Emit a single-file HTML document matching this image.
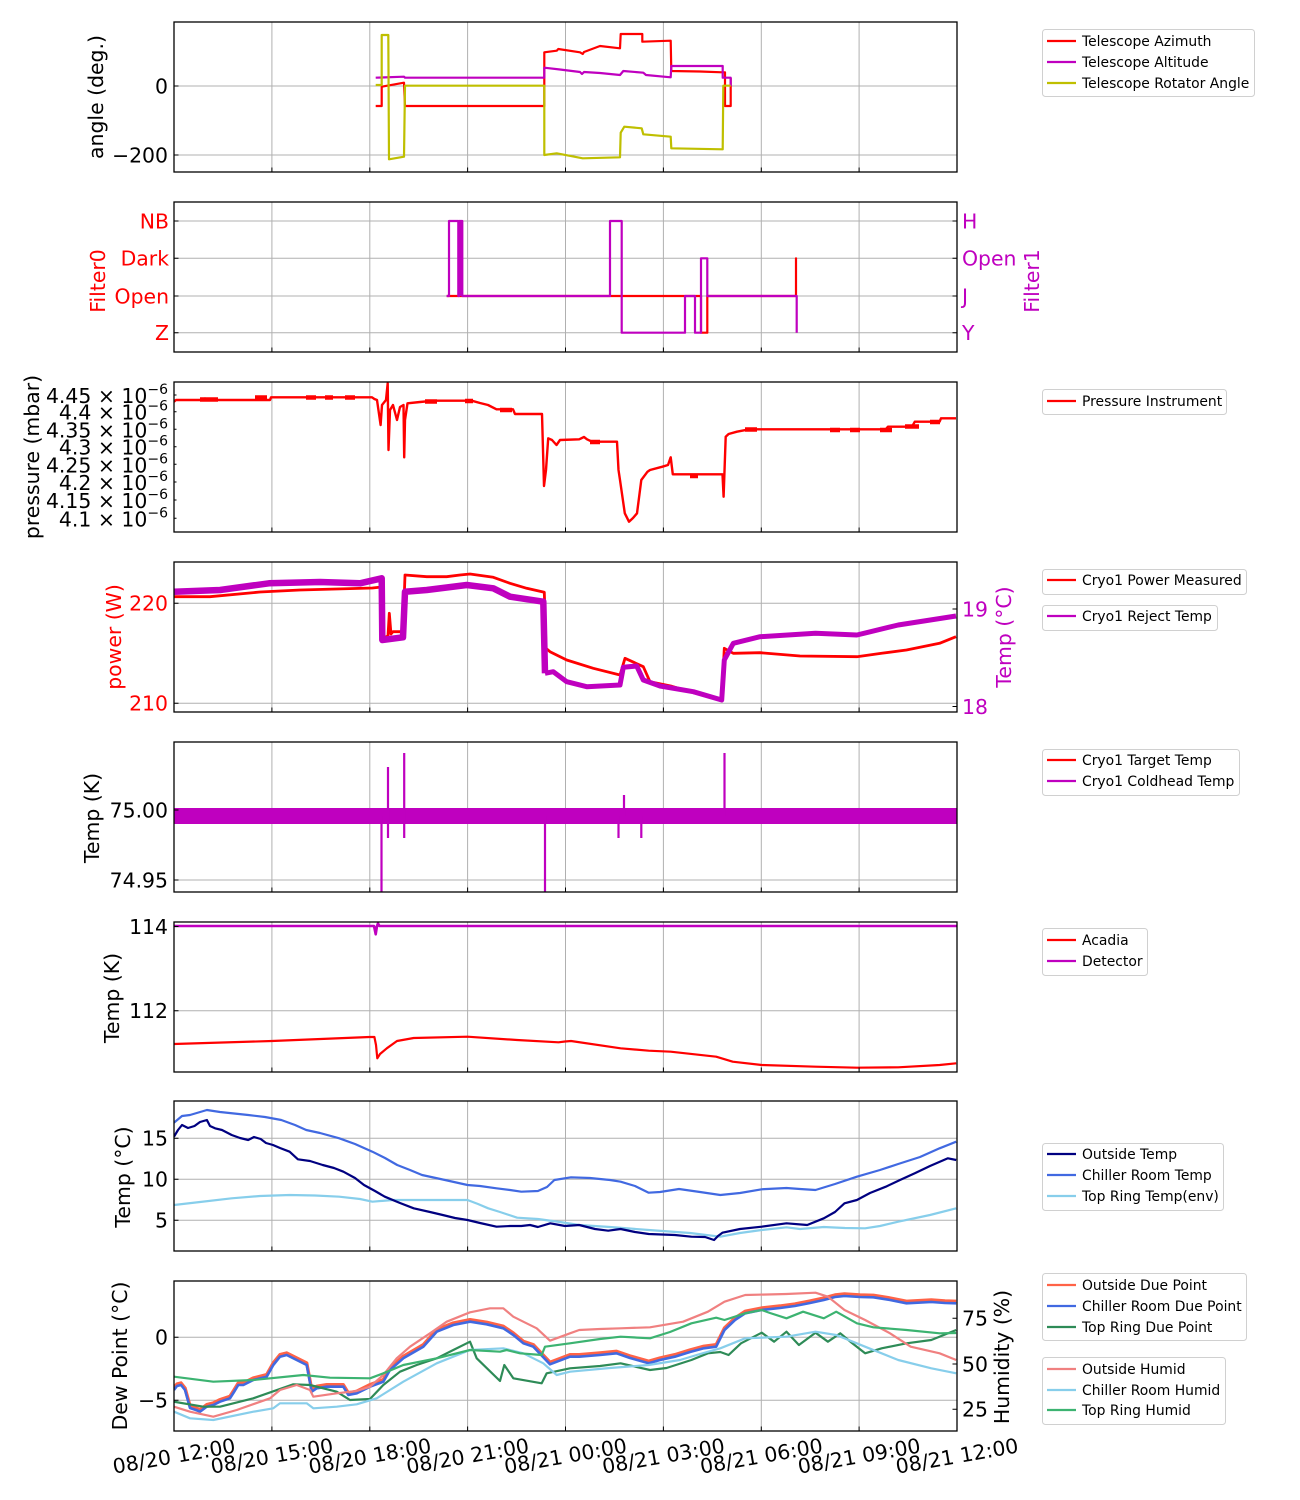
<!DOCTYPE html>
<html><head><meta charset="utf-8"><style>
html,body{margin:0;padding:0;background:#fff;}
svg{display:block;}
.l{fill:none;stroke-linejoin:round;stroke-linecap:butt;}
text{font-family:"DejaVu Sans","Liberation Sans",sans-serif;}
.tk{font-size:20.4px;}
.lg{font-size:13.9px;}
</style></head><body>
<svg width="1300" height="1500" viewBox="0 0 1300 1500" xmlns="http://www.w3.org/2000/svg">
<defs>
<path id="vg" d="M271.9 0V150M369.8 0V150M467.6 0V150M565.5 0V150M663.4 0V150M761.3 0V150M859.1 0V150" stroke="#b0b0b0" stroke-width="1" fill="none"/>
<path id="bt" d="M271.9 150v-4.5M369.8 150v-4.5M467.6 150v-4.5M565.5 150v-4.5M663.4 150v-4.5M761.3 150v-4.5M859.1 150v-4.5" stroke="#000" stroke-width="1" fill="none"/>
<polyline id="cdew" points="174,1390 177,1386 181,1385 185,1390 190,1408 196,1410 200,1411.7 206.7,1406.7 213.3,1405 220,1401.7 230,1398.3 234,1392 238.3,1385 243.3,1385 253.3,1380 266.7,1376.7 273.3,1365 280,1356.7 286.7,1355 296.7,1360 306.7,1365 311.7,1391.7 316.7,1388.3 326.7,1386.7 343.3,1386.7 348.3,1395 356.7,1393.3 370,1386.7 383.3,1381.7 390,1370 403.3,1358.3 423.3,1346.7 436.7,1331.7 453.3,1325 470,1321.7 486.7,1324.3 503.3,1328.3 513.3,1335 523.3,1343.3 533.3,1346.7 550,1364.3 570,1356.7 579.2,1356.7 600,1355 616.5,1353.3 630,1358 648.7,1363.3 660,1360 674.8,1356.7 690,1352 703.8,1348.3 716.2,1346.7 724.5,1330 735,1320 745.2,1313.3 761.7,1310 780,1308 794.8,1306 810,1303 823.8,1300 835,1297 844.5,1296 860,1297 873.4,1297.3 890,1300 906.5,1303.3 931.3,1302 945,1303 956.2,1303.3"/>
<clipPath id="c1"><rect x="174" y="22" width="783" height="150"/></clipPath>
<clipPath id="c2"><rect x="174" y="202" width="783" height="150"/></clipPath>
<clipPath id="c3"><rect x="174" y="382" width="783" height="150"/></clipPath>
<clipPath id="c4"><rect x="174" y="562" width="783" height="150"/></clipPath>
<clipPath id="c5"><rect x="174" y="742" width="783" height="150"/></clipPath>
<clipPath id="c6"><rect x="174" y="922" width="783" height="150"/></clipPath>
<clipPath id="c7"><rect x="174" y="1101" width="783" height="150"/></clipPath>
<clipPath id="c8"><rect x="174" y="1281" width="783" height="150"/></clipPath>
</defs>

<use href="#vg" y="22"/><use href="#vg" y="202"/><use href="#vg" y="382"/><use href="#vg" y="562"/>
<use href="#vg" y="742"/><use href="#vg" y="922"/><use href="#vg" y="1101"/><use href="#vg" y="1281"/>
<path d="M174 86H957M174 155H957 M174 221H957M174 258.3H957M174 296H957M174 332.7H957 M174 603.3H957M174 703.3H957 M174 810H957M174 880H957 M174 926.5H957M174 1010.7H957 M174 1138.3H957M174 1179.3H957M174 1220.3H957 M174 1337.3H957M174 1400.3H957" stroke="#b0b0b0" stroke-width="1" fill="none"/>

<g clip-path="url(#c1)" stroke-width="2.2">
<polyline class="l" stroke="#ff0000" points="375.7,106 381.7,106 381.7,86.7 404,82.7 405,106 544.3,106 544.3,52.3 556.7,50.7 558.3,49 580,52.3 582.7,54 584,52 600,46 620,48.3 620.7,34 642.3,34 642.3,41.7 670.7,40.7 671.3,71 700,71.5 722.3,72.3 725,72.3 725,106 730.7,106 730.7,78"/>
<polyline class="l" stroke="#bf00bf" points="375.7,77.7 404,76.7 405,77.7 544.3,77.7 544.3,67.7 560,69.5 580,72 582,74 584,72 600,73 620,75 623.3,71 643.3,72.7 646,75 670.7,77.3 671.3,66 722.7,66 722.7,77.7 730.7,77.7 730.7,86"/>
<polyline class="l" stroke="#bfbf00" points="375.7,85 381.7,85 381.7,35 388.3,35 389,159.3 404,156.7 405,85.7 544.3,85.7 544.3,155 556.7,153.3 582.7,158.3 620,157.3 620.7,132.7 624.3,126.7 641.7,128.3 643.3,134.3 670.7,136.7 671.3,148.3 722.7,149.3 723.3,85.7 730.7,85.7"/>
</g>

<g clip-path="url(#c2)" stroke-width="2.2">
<polyline class="l" stroke="#ff0000" points="446.7,296 701,296 701,332.7 707.3,332.7 707.3,296 796,296 796,258.3 796,296"/>
<polyline class="l" stroke="#bf00bf" points="446.7,296 449,296 449,221 458.3,221 458.3,296 459,296 459,221 462.3,221 462.3,296 610,296 610,221 621.7,221 621.7,332.7 685,332.7 685,296 695,296 695,332.7 701,332.7 701,258.3 707.3,258.3 707.3,296 796.7,296 796.7,332.7"/>
<path d="M459.5 221V296M461 221V296" stroke="#bf00bf" stroke-width="2"/>
</g>

<g clip-path="url(#c3)">
<polyline class="l" stroke="#ff0000" stroke-width="2.4" points="174,401.7 176,400 200,400 205,398.5 207,400 270,400 271,397.3 372,397.3 374.4,399 377,400 380.6,425 382,405 386,400 387.7,383.3 388.5,450 390,410 393,405 397,420 400,407 403.5,405 404.2,457.3 405,420 407.5,403.3 420,402 434,400.7 471.7,400.7 480,403 488,405 496.5,409.3 513,409.3 515,414 542,414 544,486 546,470 548.2,438.3 552,440 556.5,445 560,440 579.2,439.3 584,437 587,439.3 592,441.7 617,441.7 618.5,470 620,480 624.8,513.3 629,521.7 633,518 637,513.3 641.3,480 647.5,471.7 650,470 662.4,466.7 668,465 670.7,457.3 672.8,474.3 722.5,474.3 723.6,496.7 725.7,436.7 728.6,434 736.9,431.7 749.3,429.3 885.8,429.3 888,426.7 912,426.7 914.8,421.7 939.6,421.7 941,418.3 956,418.3"/>
<path d="M200 399.5h18M255 397.5h12M306 397.5h10M325 397.5h8M345 397.5h10M425 401.5h12M465 401h8M500 410h12M590 442h10M690 476h8M745 429.5h12M830 430h10M850 430h10M880 430h12M905 426.5h14M930 422h10" stroke="#ff0000" stroke-width="4.5"/>
</g>

<g clip-path="url(#c4)">
<polyline class="l" stroke="#ff0000" stroke-width="2.8" points="174,596.7 210,596.7 260,592 300,590 372.4,588 381.7,587 382.3,638.3 388,636 389.3,613.3 391,634 393,631.7 403,631.7 405,575 426.7,576.7 446.7,576.7 460,575 470,574 493.3,577.3 510,583.3 526.7,588.3 544.3,592.3 546,648.3 550,651.7 566.7,660 593.3,668.3 620,675 625,658.3 643.3,666.7 650,681.7 670.7,686 693.3,692.7 721.7,700 724.3,648.3 733.3,653.3 760,652.7 800,656 856.9,656.7 881.7,653.3 906.5,650 939.6,643.3 956,636.7"/>
<polyline class="l" stroke="#bf00bf" stroke-width="6.5" points="174,591.7 220,590 269,583.3 320,582 360,583.3 381.7,578.3 382.3,640 403,637.3 405,591.7 426.7,590 466.7,585 493.3,588.3 510,596.7 543.3,601.7 545,673.3"/>
<polyline class="l" stroke="#bf00bf" stroke-width="5" points="545,673.3 553.3,671.7 566.7,681.7 586.7,686.7 620,685 623.3,667.3 636.7,666 643.3,680 660,686 693.3,691.7 721.7,700 724.3,660 733.3,643.3 760,636.7 815.5,633.3 856.9,635 898.2,625 956,616"/>
</g>

<g clip-path="url(#c5)">
<rect x="174" y="808" width="783" height="16" fill="#bf00bf"/>
<path d="M381.5 816V892M388 767V838M404.2 753V838M545 816V892M618.5 816V838M624 795V816M641.3 816V838M724.5 753V816" stroke="#bf00bf" stroke-width="2.2" fill="none"/>
</g>

<g clip-path="url(#c6)">
<polyline class="l" stroke="#ff0000" stroke-width="2.2" points="174,1044 272,1041 369.5,1037 374.4,1037 376,1045 377.3,1058.3 380,1054 386.8,1048.3 397,1041 413.7,1038 467.5,1036.7 517,1040 558.5,1042.3 565,1041.5 571,1041 620.6,1048.3 648.7,1050.7 670.7,1051.7 716.2,1056.7 732.7,1061.7 761.7,1065 815.5,1066.7 856.9,1067.7 898.2,1067.3 939.6,1065 956.2,1063.3"/>
<polyline class="l" stroke="#bf00bf" stroke-width="2.6" points="174,926 374,926 375.7,934.3 377,926 378,923.5 379.5,926 957,926"/>
</g>

<g clip-path="url(#c7)" stroke-width="2.2">
<polyline class="l" stroke="#87ceeb" points="174,1205 200,1202 231.7,1198.3 260,1196 289.6,1195 315,1195.5 339.3,1196.7 360,1199 372.4,1201.7 393,1200 430,1200 467.5,1200 478,1204 488.2,1208.3 500,1212 517.2,1217.7 537.9,1219 560,1222 579.2,1225 610,1227 648.7,1230 690,1233 720.3,1236.7 740,1233 761.7,1230 786.5,1227.3 800,1229 823.8,1227 845,1228 865.1,1228.3 880,1226 898.2,1221.7 930,1215 956.2,1208.3"/>
<polyline class="l" stroke="#4169e1" points="174,1122.7 182,1116 190,1115 206.9,1110 220,1112 248.2,1115 265,1117 281.3,1120 295,1125 306.2,1130 320,1133 339.3,1138.3 355,1144 372.4,1151.7 385,1158 397.2,1165 410,1170 422,1175 445,1180 467.5,1185 480,1186 496.5,1188.3 510,1190 521.3,1191.7 537.9,1191 547,1187 554.4,1180 571,1177.3 590,1178 610,1180 620.6,1181.7 635,1186 648.7,1192.7 660,1192 679,1189 700,1192 720.3,1195 740,1193 761.7,1189.3 786.5,1188 800,1189 815.5,1190 835,1184 856.9,1176.7 880,1170 898.2,1164 920,1157 939.6,1148.3 956.2,1141.7"/>
<polyline class="l" stroke="#000080" points="174,1136.7 178,1130 182,1125 188,1128 194.5,1126 200,1122 206.9,1120 210,1126 215,1128.3 222,1130 231.7,1135 240,1138 248.2,1140 254,1137 260.7,1139 266,1143 273,1145 280,1148 289.6,1151.7 297.9,1159.3 310,1161 322.7,1165 334,1168 343.4,1171.7 355,1178 364,1185 375,1191 384.8,1196.7 400,1203 413.7,1208.3 430,1212 442.7,1215 455,1218 467.5,1220 480,1223 496.5,1226.7 510,1226 521.3,1226 530,1225 537.9,1227 550.3,1223.3 565,1226 579.2,1225 595,1229 608.2,1230.7 620.6,1229 635,1232 648.7,1234 674.8,1235 691.4,1236.7 705,1237 714.1,1240 718,1236 722.4,1232.7 740,1229 761.7,1226.7 786.5,1223.3 807.2,1225 823.8,1218.3 835,1212 844.5,1203.3 856.9,1200 870,1193 885.8,1186.7 900,1180 914.8,1173.3 930,1166 947.9,1158.3 956.2,1160"/>
</g>

<g clip-path="url(#c8)">
<use href="#cdew" class="l" stroke="#ff6347" stroke-width="3.4" transform="translate(0,-2)"/>
<use href="#cdew" class="l" stroke="#4169e1" stroke-width="2.6"/>
<polyline class="l" stroke="#2e8b57" stroke-width="2.2" points="174,1401.7 203.3,1406.7 220,1406.7 253.3,1398.3 293.3,1384.3 310,1385 336.7,1391.7 350,1400 370,1399 383.3,1385 400,1371.7 416.7,1365 436.7,1358.3 453.3,1350 470,1341.7 476.7,1358.3 500,1381 504.3,1365 513.3,1378.3 541.7,1383.3 546.7,1373.3 570,1368.3 600,1366 620.6,1363.3 650,1370 666.5,1368 691.4,1360 707.9,1353.3 720.3,1352 728.6,1355 741,1343.3 761.7,1332.7 774.1,1341.7 786.5,1331.7 798.9,1345 815.5,1332.7 827.9,1341.7 840.3,1333.3 852,1343 865.1,1353.3 881.7,1348.3 906.5,1343.3 931.3,1340 956.2,1330"/>
<polyline class="l" stroke="#f08080" stroke-width="2.2" points="174,1406.7 190,1411.7 213.3,1416.7 236.7,1410 270,1398.3 280,1390 296.7,1385 310,1390 313.3,1396.7 336.7,1393.3 356.7,1391 370,1386.7 383.3,1375 396.7,1358.3 410,1346.7 430,1333.3 446.7,1321.7 470,1312.3 490,1308.3 503.3,1308.3 513.3,1316.7 523.3,1321.7 536.7,1328.3 550,1340.7 570,1333.3 579.2,1330 600,1329 620.6,1328.3 650,1327.3 683.1,1321.7 707.9,1311.7 724.5,1301.7 745.2,1295 786.5,1294 815.5,1292.7 827.9,1296.7 844.5,1310 865.1,1320 890,1333.3 910.7,1346.7 939.6,1353.3 956.2,1360"/>
<polyline class="l" stroke="#87ceeb" stroke-width="2.2" points="174,1411.7 190,1418.3 213.3,1420 253.3,1411.7 273.3,1408.3 280,1403.3 306.7,1403.3 313.3,1408.3 336.7,1406.7 356.7,1404.3 376.7,1398.3 403.3,1381.7 436.7,1363.3 470,1350 503.3,1348.3 523.3,1353.3 543.3,1363.3 556.7,1375 570,1371.7 610,1368 648.7,1365 680,1360 700,1354 720.3,1348.3 745.2,1338.3 786.5,1336.7 815.5,1331.7 836.2,1335 865.1,1346.7 898.2,1360 931.3,1368.3 956.2,1373.3"/>
<polyline class="l" stroke="#3cb371" stroke-width="2.2" points="174,1376.7 213.3,1381.7 253.3,1380 303.3,1375 330,1377.7 370,1378.3 383.3,1373.3 403.3,1365 436.7,1358.3 470,1350 500,1351.7 506.7,1350 520,1353.3 541.7,1355 545,1346.7 570,1343.3 600,1339 620.6,1336.7 650,1338.3 670,1332 691.4,1323.3 716.2,1317.7 724.5,1320 745.2,1313.3 761.7,1310 770,1313 786.5,1318.3 803.1,1311.7 823.8,1318.3 836.2,1311.7 856.9,1323.3 873.4,1327.3 906.5,1330 939.6,1333.3 956.2,1333"/>
</g>

<use href="#bt" y="22"/><use href="#bt" y="202"/><use href="#bt" y="382"/><use href="#bt" y="562"/>
<use href="#bt" y="742"/><use href="#bt" y="922"/><use href="#bt" y="1101"/><use href="#bt" y="1281"/>
<path d="M174 86h4.5M174 155h4.5 M174 221h4.5M174 258.3h4.5M174 296h4.5M174 332.7h4.5M957 221h-4.5M957 258.3h-4.5M957 296h-4.5M957 332.7h-4.5 M174 395h2.5M174 411.7h2.5M174 429.3h2.5M174 446.7h2.5M174 464.3h2.5M174 482h2.5M174 500h2.5M174 518.3h2.5 M174 603.3h4.5M174 703.3h4.5M957 609h-4.5M957 706.5h-4.5 M174 810h4.5M174 880h4.5 M174 926.5h4.5M174 1010.7h4.5 M174 1138.3h4.5M174 1179.3h4.5M174 1220.3h4.5 M174 1337.3h4.5M174 1400.3h4.5M957 1318.3h-4.5M957 1364h-4.5M957 1409.3h-4.5" stroke="#000" stroke-width="1" fill="none"/>
<g fill="none" stroke="#000" stroke-width="1.3">
<rect x="174" y="22" width="783" height="150"/><rect x="174" y="202" width="783" height="150"/>
<rect x="174" y="382" width="783" height="150"/><rect x="174" y="562" width="783" height="150"/>
<rect x="174" y="742" width="783" height="150"/><rect x="174" y="922" width="783" height="150"/>
<rect x="174" y="1101" width="783" height="150"/><rect x="174" y="1281" width="783" height="150"/>
</g>

<g class="tk" text-anchor="end">
<text x="168" y="93.4">0</text><text x="168" y="162.4">−200</text>
<g fill="#ff0000"><text x="169" y="228.4">NB</text><text x="169" y="265.7">Dark</text><text x="169" y="303.4">Open</text><text x="169" y="340.1">Z</text></g>
<text x="168" y="403">4.45 × 10<tspan font-size="14" dy="-9">−6</tspan></text>
<text x="168" y="419.7">4.4 × 10<tspan font-size="14" dy="-9">−6</tspan></text>
<text x="168" y="437.3">4.35 × 10<tspan font-size="14" dy="-9">−6</tspan></text>
<text x="168" y="454.7">4.3 × 10<tspan font-size="14" dy="-9">−6</tspan></text>
<text x="168" y="472.3">4.25 × 10<tspan font-size="14" dy="-9">−6</tspan></text>
<text x="168" y="490">4.2 × 10<tspan font-size="14" dy="-9">−6</tspan></text>
<text x="168" y="508">4.15 × 10<tspan font-size="14" dy="-9">−6</tspan></text>
<text x="168" y="526.3">4.1 × 10<tspan font-size="14" dy="-9">−6</tspan></text>
<g fill="#ff0000"><text x="168" y="610.7">220</text><text x="168" y="710.7">210</text></g>
<text x="168" y="817.4">75.00</text><text x="168" y="887.4">74.95</text>
<text x="168" y="933.9">114</text><text x="168" y="1018.1">112</text>
<text x="168" y="1145.7">15</text><text x="168" y="1186.7">10</text><text x="168" y="1227.7">5</text>
<text x="168" y="1344.7">0</text><text x="168" y="1407.7">−5</text>
</g>
<g class="tk" text-anchor="start">
<g fill="#bf00bf"><text x="962" y="228.4">H</text><text x="962" y="265.7">Open</text><text x="962" y="303.4">J</text><text x="962" y="340.1">Y</text>
<text x="962" y="616.4">19</text><text x="962" y="713.9">18</text></g>
<text x="962" y="1325.7">75</text><text x="962" y="1371.4">50</text><text x="962" y="1416.7">25</text>
</g>

<g class="tk" text-anchor="middle">
<text transform="translate(96,97) rotate(-90)" dy="0.35em">angle (deg.)</text>
<text transform="translate(98,281) rotate(-90)" dy="0.35em" fill="#ff0000">Filter0</text>
<text transform="translate(1032,281) rotate(-90)" dy="0.35em" fill="#bf00bf">Filter1</text>
<text transform="translate(32,457) rotate(-90)" dy="0.35em">pressure (mbar)</text>
<text transform="translate(114,637) rotate(-90)" dy="0.35em" fill="#ff0000">power (W)</text>
<text transform="translate(1004,637) rotate(-90)" dy="0.35em" fill="#bf00bf">Temp (°C)</text>
<text transform="translate(92,818) rotate(-90)" dy="0.35em">Temp (K)</text>
<text transform="translate(112,998) rotate(-90)" dy="0.35em">Temp (K)</text>
<text transform="translate(123,1177) rotate(-90)" dy="0.35em">Temp (°C)</text>
<text transform="translate(120,1356) rotate(-90)" dy="0.35em">Dew Point (°C)</text>
<text transform="translate(1002,1357) rotate(-90)" dy="0.35em">Humidity (%)</text>
</g>

<g class="tk" text-anchor="middle">
<text transform="translate(174,1456) rotate(-10)" dy="0.35em">08/20 12:00</text>
<text transform="translate(271.9,1456) rotate(-10)" dy="0.35em">08/20 15:00</text>
<text transform="translate(369.8,1456) rotate(-10)" dy="0.35em">08/20 18:00</text>
<text transform="translate(467.6,1456) rotate(-10)" dy="0.35em">08/20 21:00</text>
<text transform="translate(565.5,1456) rotate(-10)" dy="0.35em">08/21 00:00</text>
<text transform="translate(663.4,1456) rotate(-10)" dy="0.35em">08/21 03:00</text>
<text transform="translate(761.3,1456) rotate(-10)" dy="0.35em">08/21 06:00</text>
<text transform="translate(859.1,1456) rotate(-10)" dy="0.35em">08/21 09:00</text>
<text transform="translate(957,1456) rotate(-10)" dy="0.35em">08/21 12:00</text>
</g>

<g fill="#fff" stroke="#d0d0d0" stroke-width="1">
<rect x="1042.5" y="29.5" width="212" height="67" rx="3"/>
<rect x="1042.5" y="389.5" width="184" height="25" rx="3"/>
<rect x="1042.5" y="569.5" width="204" height="25" rx="3"/>
<rect x="1042.5" y="605.5" width="175" height="25" rx="3"/>
<rect x="1042.5" y="749.5" width="197" height="46" rx="3"/>
<rect x="1042.5" y="928.5" width="105" height="47" rx="3"/>
<rect x="1042.5" y="1143.5" width="181" height="67" rx="3"/>
<rect x="1042.5" y="1273.5" width="204" height="67" rx="3"/>
<rect x="1042.5" y="1357.5" width="183" height="67" rx="3"/>
</g>
<g stroke-width="2.2" fill="none">
<path d="M1047 41h29" stroke="#ff0000"/><path d="M1047 62h29" stroke="#bf00bf"/><path d="M1047 83h29" stroke="#bfbf00"/>
<path d="M1047 401h29" stroke="#ff0000"/>
<path d="M1047 580h29" stroke="#ff0000"/><path d="M1047 616h29" stroke="#bf00bf"/>
<path d="M1047 760h29" stroke="#ff0000"/><path d="M1047 781h29" stroke="#bf00bf"/>
<path d="M1047 940h29" stroke="#ff0000"/><path d="M1047 961h29" stroke="#bf00bf"/>
<path d="M1047 1154h29" stroke="#000080"/><path d="M1047 1175h29" stroke="#4169e1"/><path d="M1047 1196h29" stroke="#87ceeb"/>
<path d="M1047 1285h29" stroke="#ff6347"/><path d="M1047 1306h29" stroke="#4169e1"/><path d="M1047 1327h29" stroke="#2e8b57"/>
<path d="M1047 1369h29" stroke="#f08080"/><path d="M1047 1390h29" stroke="#87ceeb"/><path d="M1047 1410h29" stroke="#3cb371"/>
</g>
<g class="lg" fill="#000">
<text x="1082" y="46">Telescope Azimuth</text><text x="1082" y="67">Telescope Altitude</text><text x="1082" y="88">Telescope Rotator Angle</text>
<text x="1082" y="406">Pressure Instrument</text>
<text x="1082" y="585">Cryo1 Power Measured</text><text x="1082" y="621">Cryo1 Reject Temp</text>
<text x="1082" y="765">Cryo1 Target Temp</text><text x="1082" y="786">Cryo1 Coldhead Temp</text>
<text x="1082" y="945">Acadia</text><text x="1082" y="966">Detector</text>
<text x="1082" y="1159">Outside Temp</text><text x="1082" y="1180">Chiller Room Temp</text><text x="1082" y="1201">Top Ring Temp(env)</text>
<text x="1082" y="1290">Outside Due Point</text><text x="1082" y="1311">Chiller Room Due Point</text><text x="1082" y="1332">Top Ring Due Point</text>
<text x="1082" y="1374">Outside Humid</text><text x="1082" y="1395">Chiller Room Humid</text><text x="1082" y="1415">Top Ring Humid</text>
</g>
</svg>
</body></html>
